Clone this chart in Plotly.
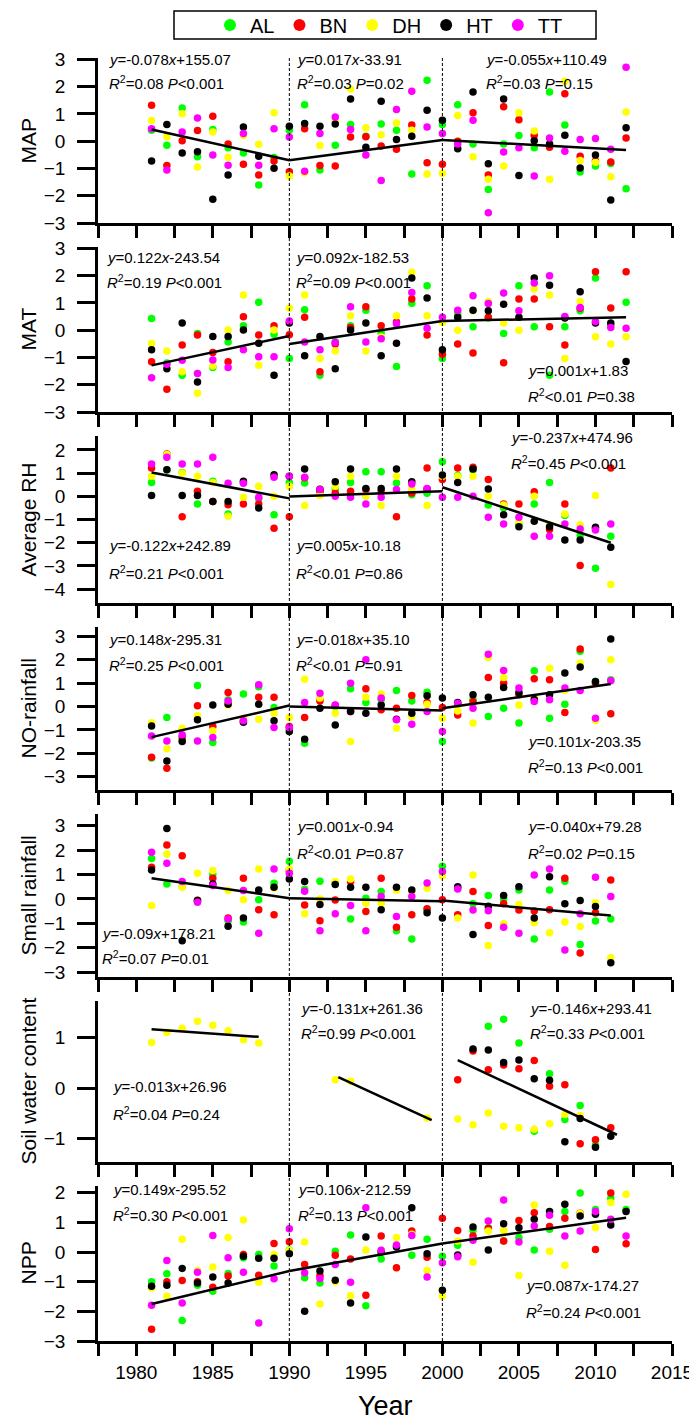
import plotly.graph_objects as go

years = list(range(1981, 2013))
series_names = ["AL", "BN", "DH", "HT", "TT"]
series_colors = ["#00FF00", "#FF0000", "#FFFF00", "#000000", "#FF00FF"]
panel_titles = ["MAP", "MAT", "Average RH", "NO-rainfall", "Small rainfall", "Soil water content", "NPP"]

x_tick_vals = [1977.5 + 2.5 * i for i in range(16)]
x_tick_text = ["" if v % 5 else str(int(v)) for v in x_tick_vals]
N = None

# ---- MAP ----
map_al = [0.4, -0.15, 1.22, -0.57, 0.43, -0.24, -0.43, -1.61, -0.6, 0.4, 1.34, -1.06, -0.15, 0.61, 0.18, 0.63, 0.4, -1.2, 2.23, 0.61, 1.34, -0.1, -1.77, -0.1, 0.21, -0.24, 1.8, 0.59, -1.13, -0.91, -0.82, -1.74]
map_bn = [1.32, -0.89, 0.02, 0.39, 0.91, -0.1, -0.85, -1.24, -0.73, -1.12, 0.46, -0.89, -0.91, 0.15, 0.16, -0.18, -0.3, 0.59, -0.79, -0.85, 0.0, 1.04, -1.24, 1.26, 0.79, 0.22, -0.22, 1.74, -0.55, -0.73, -0.76, 0.12]
map_dh = [0.76, 0.16, 1.01, -0.95, 0.34, -0.59, 0.21, -0.11, 1.04, -1.28, -1.16, -0.16, 0.75, 1.91, 0.49, 0.24, 0.67, 0.4, -1.2, -1.18, 0.94, -0.57, -1.4, -0.91, 1.04, 0.37, -1.4, 2.2, -0.71, -0.77, -1.3, 1.07]
map_ht = [-0.73, 0.61, -0.43, -0.39, -2.13, -1.24, 0.52, -0.55, -0.99, 0.55, 0.65, 0.55, 0.63, 1.55, -0.22, 1.46, 0.06, 0.18, 1.13, 0.77, -0.28, 1.8, -0.83, 1.55, -1.26, 0.02, -0.1, 0.22, -0.98, -0.51, -2.16, 0.49]
map_tt = [0.46, -1.06, 0.34, 0.85, -0.51, -0.88, 0.28, -0.88, 0.46, 0.15, -1.1, 0.28, 0.89, 0.43, -0.51, -1.44, 1.16, 1.83, 0.52, 0.28, -0.1, 0.77, -2.62, -0.4, -0.24, -1.28, 0.12, -0.37, 0.06, 0.1, -0.3, 2.71]

# ---- MAT ----
mat_al = [0.43, -1.2, -1.65, -0.12, -1.37, -0.43, 0.16, 1.02, -0.15, -1.04, 0.75, -1.65, -0.42, 0.16, 0.73, -0.09, -1.33, 0.99, 1.63, -1.04, 0.6, 0.13, 0.45, -0.12, 1.63, 0.13, -1.65, 0.13, 0.71, 1.91, 0.2, 1.02]
mat_bn = [-1.16, -2.17, -0.54, -0.18, -0.82, -1.16, 0.49, -0.18, 0.16, -0.17, 0.47, -1.52, -0.51, 0.1, 0.86, 0.16, 0.3, 1.14, -0.18, -0.88, -0.51, -0.84, 0.47, -1.19, 1.14, 1.14, 0.13, -0.54, 0.8, 2.14, 0.81, 2.14]
mat_dh = [-0.49, -0.76, -1.52, -2.31, -1.31, 0.01, 1.29, -1.29, 0.01, 0.8, 1.29, -1.04, -0.76, 0.53, -0.76, -0.25, 0.53, 2.12, 0.53, 0.28, 0.0, 0.71, 1.05, 0.26, 0.0, 1.51, 1.29, -1.04, 1.05, -0.24, -0.51, -0.24]
mat_ht = [-0.72, -1.41, 0.26, -1.9, -0.23, -0.23, 0.01, -0.48, -1.65, 0.26, -0.94, -0.23, -1.41, 0.01, 0.26, -0.94, -0.48, 1.91, 1.18, -0.72, 0.47, 0.73, 0.71, 0.95, 0.47, 1.91, 1.65, 0.45, 1.41, 0.26, 0.26, -1.15]
mat_tt = [-1.74, -1.25, -1.1, -1.59, -1.09, -1.37, -0.72, -0.97, -0.97, 0.34, -0.43, -0.72, -0.45, 0.86, -0.43, -0.31, 0.24, 1.38, 0.07, 0.47, 0.73, 1.26, 0.98, 1.36, 0.71, 1.73, 2.0, 0.5, 0.83, 0.32, 0.1, 0.07]

# ---- Average RH ----
rh_al = [0.6, 1.15, 1.03, -0.33, 0.65, -0.76, 0.6, -0.1, -0.8, 0.6, 0.57, 0.25, 0.32, 0.6, 1.06, 1.06, 0.57, 0.07, 0.13, 1.49, 0.9, 1.15, -0.37, -0.5, -1.19, -0.33, 0.6, -0.83, -1.69, -3.1, -1.72, N]
rh_bn = [1.22, 1.82, -0.88, 0.22, -0.22, -0.36, -0.33, -0.33, -1.38, -0.88, 0.8, 0.2, 0.14, 0.22, 0.29, 0.2, -0.88, 0.14, 1.22, 0.72, 1.22, 1.25, 0.72, -0.33, -0.33, 0.2, -1.43, -0.33, -2.98, -1.4, 1.22, N]
rh_dh = [0.86, 1.8, 1.0, 0.86, 0.6, -0.86, -0.04, 0.43, 0.0, 0.43, -0.4, 0.03, 0.43, 0.86, 0.0, -0.4, 0.86, 0.32, -0.4, 0.86, 0.86, 0.86, 0.0, -0.37, -1.1, 0.0, -1.23, -0.76, -1.23, 0.03, -3.8, N]
rh_ht = [0.03, 1.15, 0.03, 0.03, -0.22, -0.22, 0.65, -0.5, 0.93, 0.86, 1.18, 0.3, 0.63, 1.18, 0.34, 0.34, 1.18, 0.63, 0.32, 0.92, 0.6, 1.18, 0.32, -0.79, -1.31, -1.08, -1.31, -1.88, -1.88, -1.33, -2.2, N]
rh_tt = [1.39, 1.68, 1.39, 1.39, 1.68, 0.56, 0.56, -0.04, 0.82, 0.86, 0.82, 0.29, 0.0, -0.04, -0.33, -0.04, 0.29, 0.53, 0.34, -0.04, -0.04, 0.0, -0.9, -1.19, -0.9, -1.72, -1.72, -1.19, -1.41, -1.45, -1.19, N]

# ---- NO-rainfall ----
no_al = [-2.2, -0.47, -1.4, 0.9, -1.54, 0.29, 0.54, 0.85, -0.04, -0.95, -1.57, 0.3, 0.0, 0.76, 0.17, 0.3, 0.69, 0.24, 0.61, -1.5, 0.1, 0.3, -0.43, -0.07, -0.71, 1.53, -0.5, 0.1, 2.36, 1.07, 1.14, N]
no_bn = [-2.17, -2.64, -1.3, 0.03, -0.86, 0.6, -0.6, 0.4, 0.4, -0.86, -0.47, 0.24, 0.05, -0.21, 0.76, -0.14, -0.07, 0.47, 0.17, -0.04, -0.36, 0.2, 1.24, 1.0, 0.5, 1.19, 1.14, -0.26, 2.46, 1.0, -0.31, N]
no_dh = [-0.69, -1.81, -0.93, -0.39, -1.04, 0.07, -0.5, -0.54, -0.29, -0.47, 1.17, 0.36, -0.29, -1.5, 0.4, 0.54, -0.93, -0.43, 0.1, -0.5, -0.19, -0.71, 2.1, 1.24, 0.07, 0.39, 1.64, 0.7, 1.86, -0.6, 2.0, N]
no_ht = [-0.83, -2.33, -1.5, -0.57, 0.07, 0.1, -0.67, 0.1, -0.61, -1.07, -1.4, -0.07, -0.79, -0.21, -0.29, 0.07, -0.54, -0.29, 0.46, 0.36, 0.17, 0.5, 0.4, 0.81, 0.6, 0.3, 0.5, 1.43, 1.69, 1.07, 2.89, N]
no_tt = [-1.26, -1.47, -1.21, -1.47, -1.33, 0.24, -0.61, 0.93, -0.9, -0.9, 0.17, 0.57, 0.07, 1.0, 2.0, 0.36, -0.57, -0.76, -0.21, -1.07, 0.14, -0.07, 2.24, 1.54, 0.79, 0.21, 0.29, 0.79, 0.69, -0.5, 1.1, N]

# ---- Small rainfall ----
sr_al = [1.66, 0.61, 0.5, -0.1, 1.0, -0.9, -0.95, -0.03, 0.64, 1.54, 0.4, 0.72, 0.65, -0.82, 0.03, 0.3, -1.3, -1.64, -0.44, 1.34, 0.45, -0.2, 0.14, 0.0, 0.37, -1.64, 0.37, 0.72, -1.87, -0.91, -0.82, N]
sr_bn = [1.3, 2.21, 1.77, -0.05, 0.85, -0.78, 0.85, -0.44, -0.65, 1.16, -0.25, -0.89, -0.04, 0.71, -0.52, 0.85, -1.16, -0.65, -0.4, -0.03, -0.65, 0.3, -1.09, -0.2, -0.45, -0.5, -0.44, 0.85, -2.22, -0.57, 0.78, N]
sr_dh = [-0.27, 1.84, 0.48, 1.05, 1.16, 0.34, -0.03, 1.23, 0.45, 1.23, -0.61, 0.0, 0.71, 0.82, -0.18, -0.18, 0.37, 0.3, 0.44, 0.95, -0.78, 0.98, -1.91, -1.02, -0.23, -0.98, -1.39, -0.95, -1.13, -0.16, -2.41, N]
sr_ht = [1.19, 2.89, -1.71, -0.07, 0.61, -1.12, -0.78, 0.37, 0.48, 0.82, 0.71, -0.23, 0.59, 0.48, 0.48, -0.44, 0.48, 0.37, -0.57, -0.78, 0.5, -1.46, -0.3, 0.14, 0.5, -0.78, 0.91, -0.2, -0.07, -0.31, -2.62, N]
sr_tt = [1.91, 1.46, 0.71, -0.14, 0.55, -0.82, 0.34, -1.41, 1.23, 1.05, 0.31, -1.3, -0.61, -0.27, -1.3, 0.1, -0.72, 0.1, 0.65, 1.12, 0.41, -0.45, -0.48, -1.16, -1.41, 0.98, 1.23, -2.09, -0.61, 0.89, 0.1, N]

# ---- Soil water content ----
sw_al = [N] * 22 + [1.23, 1.37, 0.9, -0.85, 0.29, -0.62, -0.34, -1.13, N, N]
sw_bn = [N] * 20 + [0.17, 0.74, 0.37, 0.46, 0.39, 0.55, 0.04, 0.07, -1.1, -1.02, -0.78, N]
sw_dh = [0.91, 1.11, 1.19, 1.33, 1.25, 1.14, 0.96, 0.9, N, N, N, N, 0.17, 0.14, N, N, N, N, -0.59, N,
         -0.61, -0.72, -0.49, -0.75, -0.78, -0.81, -0.7, -0.52, -0.54, N, N, N]
sw_ht = [N] * 21 + [0.78, 0.76, 0.51, 0.56, 0.19, 0.16, -1.06, -0.6, -1.17, -0.95, N]
sw_tt = [N] * 32

# ---- NPP ----
npp_al = [-1.0, -0.73, -2.31, -1.12, -1.32, -0.72, -0.19, -0.08, -0.47, 0.07, -0.87, -1.04, 0.03, 0.58, -1.81, -0.23, 0.2, -0.11, 0.43, -0.14, 0.23, 0.73, 0.82, 0.37, 0.49, 0.07, 0.77, 1.37, 1.99, 1.44, 1.82, 1.44]
npp_bn = [-2.6, -1.0, -0.96, -1.0, -1.19, -0.81, -0.08, -0.78, 0.29, 0.35, -0.42, -0.8, -0.11, -0.23, -1.46, 0.54, -0.53, 0.71, -0.17, 1.14, 0.73, 0.54, 0.8, 0.37, 1.07, 1.33, 0.86, 1.14, 1.31, 0.09, 1.99, 0.28]
npp_dh = [-1.21, -1.49, 0.43, -0.62, -0.5, 0.49, 1.08, -1.02, -0.08, 0.05, 0.34, -1.75, -1.0, -1.47, 0.07, 0.0, 0.49, 0.6, -0.62, -1.49, 0.37, -0.34, 0.71, 0.73, -0.79, 1.59, 0.03, -0.44, 1.3, 0.82, 1.67, 1.95]
npp_ht = [-1.15, -1.12, -0.55, -1.04, -0.84, -1.04, -0.14, -0.21, -0.21, -0.06, -2.0, -0.64, -0.95, -1.72, 0.51, 0.0, 0.17, 1.5, -0.06, -1.29, -0.1, 0.85, 0.07, 0.96, 0.82, 1.11, 1.37, 1.61, 1.22, 1.28, 0.91, 1.37]
npp_tt = [-1.79, -0.28, -1.72, -0.68, 0.56, -0.19, -0.68, -2.39, -0.9, 0.79, -0.7, -0.89, -0.42, -1.02, 1.5, 0.06, 0.24, 0.56, -0.84, -0.36, -0.16, 0.4, 1.05, 1.76, 0.34, 0.88, 1.24, 0.54, 0.71, 1.37, 1.11, 0.54]

# ---- trend segments (start year, end year) and (start value, end value) ----
map_trend_x = [(1981, 1990), (1990, 2000), (2000, 2012)]
map_trend_y = [(0.43, -0.7), (-0.7, 0.04), (0.04, -0.32)]
mat_trend_x = [(1981, 1990), (1990, 2000), (2000, 2012)]
mat_trend_y = [(-1.29, -0.21), (-0.51, 0.34), (0.34, 0.47)]
rh_trend_x = [(1981, 1990), (1990, 2000), (2000, 2011)]
rh_trend_y = [(1.03, -0.09), (-0.01, 0.22), (0.39, -2.0)]
no_trend_x = [(1981, 1990), (1990, 2000), (2000, 2011)]
no_trend_y = [(-1.31, 0.04), (0.0, -0.17), (-0.07, 0.96)]
sr_trend_x = [(1981, 1990), (1990, 2000), (2000, 2011)]
sr_trend_y = [(0.85, 0.03), (0.03, -0.1), (-0.07, -0.68)]
sw_trend_x = [(1981, 1988), (1993.2, 1999.3), (2001, 2011.4)]
sw_trend_y = [(1.17, 1.02), (0.22, -0.63), (0.56, -0.92)]
npp_trend_x = [(1981, 1990), (1990, 2000), (2000, 2012)]
npp_trend_y = [(-1.75, -0.64), (-0.64, 0.29), (0.29, 1.16)]

# ---- regression labels ----
map_eq = ["<i>y</i>=-0.078<i>x</i>+155.07", "<i>y</i>=0.017<i>x</i>-33.91", "<i>y</i>=-0.055<i>x</i>+110.49"]
map_r2 = ["<i>R</i><sup>2</sup>=0.08 <i>P</i>&lt;0.001", "<i>R</i><sup>2</sup>=0.03 <i>P</i>=0.02", "<i>R</i><sup>2</sup>=0.03 <i>P</i>=0.15"]
mat_eq = ["<i>y</i>=0.122<i>x</i>-243.54", "<i>y</i>=0.092<i>x</i>-182.53", "<i>y</i>=0.001<i>x</i>+1.83"]
mat_r2 = ["<i>R</i><sup>2</sup>=0.19 <i>P</i>&lt;0.001", "<i>R</i><sup>2</sup>=0.09 <i>P</i>&lt;0.001", "<i>R</i><sup>2</sup>&lt;0.01 <i>P</i>=0.38"]
rh_eq = ["<i>y</i>=-0.122<i>x</i>+242.89", "<i>y</i>=0.005<i>x</i>-10.18", "<i>y</i>=-0.237<i>x</i>+474.96"]
rh_r2 = ["<i>R</i><sup>2</sup>=0.21 <i>P</i>&lt;0.001", "<i>R</i><sup>2</sup>&lt;0.01 <i>P</i>=0.86", "<i>R</i><sup>2</sup>=0.45 <i>P</i>&lt;0.001"]
no_eq = ["<i>y</i>=0.148<i>x</i>-295.31", "<i>y</i>=-0.018<i>x</i>+35.10", "<i>y</i>=0.101<i>x</i>-203.35"]
no_r2 = ["<i>R</i><sup>2</sup>=0.25 <i>P</i>&lt;0.001", "<i>R</i><sup>2</sup>&lt;0.01 <i>P</i>=0.91", "<i>R</i><sup>2</sup>=0.13 <i>P</i>&lt;0.001"]
sr_eq = ["<i>y</i>=-0.09<i>x</i>+178.21", "<i>y</i>=0.001<i>x</i>-0.94", "<i>y</i>=-0.040<i>x</i>+79.28"]
sr_r2 = ["<i>R</i><sup>2</sup>=0.07 <i>P</i>=0.01", "<i>R</i><sup>2</sup>&lt;0.01 <i>P</i>=0.87", "<i>R</i><sup>2</sup>=0.02 <i>P</i>=0.15"]
sw_eq = ["<i>y</i>=-0.013<i>x</i>+26.96", "<i>y</i>=-0.131<i>x</i>+261.36", "<i>y</i>=-0.146<i>x</i>+293.41"]
sw_r2 = ["<i>R</i><sup>2</sup>=0.04 <i>P</i>=0.24", "<i>R</i><sup>2</sup>=0.99 <i>P</i>&lt;0.001", "<i>R</i><sup>2</sup>=0.33 <i>P</i>&lt;0.001"]
npp_eq = ["<i>y</i>=0.149<i>x</i>-295.52", "<i>y</i>=0.106<i>x</i>-212.59", "<i>y</i>=0.087<i>x</i>-174.27"]
npp_r2 = ["<i>R</i><sup>2</sup>=0.30 <i>P</i>&lt;0.001", "<i>R</i><sup>2</sup>=0.13 <i>P</i>&lt;0.001", "<i>R</i><sup>2</sup>=0.24 <i>P</i>&lt;0.001"]

# ---------------- layout geometry ----------------
W, H = 697, 1424
ML, MR, MT, MB = 90, 33, 40, 84
PH = H - MT - MB
PW = W - ML - MR
panel_px = [(50, 215), (239, 404), (428, 595), (619, 782), (806, 969), (993, 1154), (1178, 1333)]
y_ranges = [(-3.0, 3.05), (-3.0, 3.05), (-4.6, 2.6), (-3.57, 3.4), (-3.2, 3.48), (-1.46, 1.73), (-3.0, 2.23)]
y_ticks = [list(range(-3, 4)), list(range(-3, 4)), list(range(-4, 3)), list(range(-3, 4)),
           list(range(-3, 4)), [-1, 0, 1], list(range(-3, 3))]
label_pos = [
    [(1978.1, 3.0, 2.15), (1990.35, 3.0, 2.15), (2002.7, 3.0, 2.15)],
    [(1977.95, 2.67, 1.79), (1990.3, 2.67, 1.79), (2005.45, -1.46, -2.41)],
    [(1978.1, -2.12, -3.27), (1990.3, -2.12, -3.27), (2004.35, 2.54, 1.47)],
    [(1978.1, 2.86, 1.79), (1990.3, 2.86, 1.79), (2005.45, -1.5, -2.57)],
    [(1977.6, -1.41, -2.39), (1990.4, 2.96, 1.91), (2005.45, 2.96, 1.91)],
    [(1978.35, 0.03, -0.49), (1990.65, 1.59, 1.1), (2005.6, 1.59, 1.1)],
    [(1978.35, 2.1, 1.28), (1990.45, 2.1, 1.28), (2005.3, -1.12, -2.0)],
]

panels = [
    ([map_al, map_bn, map_dh, map_ht, map_tt], map_trend_x, map_trend_y, map_eq, map_r2),
    ([mat_al, mat_bn, mat_dh, mat_ht, mat_tt], mat_trend_x, mat_trend_y, mat_eq, mat_r2),
    ([rh_al, rh_bn, rh_dh, rh_ht, rh_tt], rh_trend_x, rh_trend_y, rh_eq, rh_r2),
    ([no_al, no_bn, no_dh, no_ht, no_tt], no_trend_x, no_trend_y, no_eq, no_r2),
    ([sr_al, sr_bn, sr_dh, sr_ht, sr_tt], sr_trend_x, sr_trend_y, sr_eq, sr_r2),
    ([sw_al, sw_bn, sw_dh, sw_ht, sw_tt], sw_trend_x, sw_trend_y, sw_eq, sw_r2),
    ([npp_al, npp_bn, npp_dh, npp_ht, npp_tt], npp_trend_x, npp_trend_y, npp_eq, npp_r2),
]


def py2paper(py):
    return 1 - (py - MT) / PH


def px2paper(px):
    return (px - ML) / PW


FONT = "Liberation Sans, Arial, sans-serif"
fig = go.Figure()
annotations = []
layout_axes = {}

for i, (series, tx, ty, eqs, r2s) in enumerate(panels):
    k = i + 1
    xa = "x" if k == 1 else f"x{k}"
    ya = "y" if k == 1 else f"y{k}"
    for j in range(5):
        fig.add_trace(go.Scatter(
            x=years, y=series[j], mode="markers", xaxis=xa, yaxis=ya,
            name=series_names[j], legendgroup=series_names[j], showlegend=(k == 1),
            marker=dict(color=series_colors[j], size=7.5, line=dict(width=0)),
        ))
    for (x0, x1), (y0, y1) in zip(tx, ty):
        fig.add_trace(go.Scatter(
            x=[x0, x1], y=[y0, y1], mode="lines", xaxis=xa, yaxis=ya,
            line=dict(color="black", width=2.5), showlegend=False, hoverinfo="skip",
        ))
    for (lx, ly1, ly2), e, r in zip(label_pos[i], eqs, r2s):
        annotations.append(dict(x=lx, y=ly1, xref=xa, yref=ya, text=e, showarrow=False,
                                xanchor="left", yanchor="middle", font=dict(size=15, color="black", family=FONT)))
        annotations.append(dict(x=lx, y=ly2, xref=xa, yref=ya, text=r, showarrow=False,
                                xanchor="left", yanchor="middle", font=dict(size=15, color="black", family=FONT)))
    top, bot = panel_px[i]
    d0, d1 = py2paper(bot), py2paper(top)
    layout_axes["xaxis" if k == 1 else f"xaxis{k}"] = dict(
        domain=[0, 1], anchor=ya, range=[1977.5, 2015], showline=True, linewidth=2.5, linecolor="black",
        ticks="outside", ticklen=12, tickwidth=2.5, tickcolor="black", tickmode="array",
        tickvals=x_tick_vals, ticktext=x_tick_text, showticklabels=(k == 7), showgrid=False, zeroline=False,
        tickfont=dict(size=19, family=FONT, color="black"),
    )
    layout_axes["yaxis" if k == 1 else f"yaxis{k}"] = dict(
        domain=[d0, d1], anchor=xa, range=list(y_ranges[i]), showline=True, linewidth=2.5, linecolor="black",
        ticks="outside", ticklen=18, tickwidth=2.5, tickcolor="black", tickmode="array",
        tickvals=y_ticks[i], showgrid=False, zeroline=False, ticklabelstandoff=8,
        tickfont=dict(size=19, family=FONT, color="black"),
    )
    annotations.append(dict(x=px2paper(20), y=(d0 + d1) / 2, xref="paper", yref="paper",
                            text=panel_titles[i], textangle=-90, showarrow=False, xanchor="center",
                            yanchor="middle", font=dict(size=21, family=FONT, color="black")))

annotations.append(dict(x=0.5, y=py2paper(1398), xref="paper", yref="paper", text="Year", showarrow=False,
                        xanchor="center", yanchor="middle", font=dict(size=27, family=FONT, color="black")))

shapes = []
for xv in [1990, 2000]:
    shapes.append(dict(type="line", xref="x7", yref="paper", x0=xv, x1=xv,
                       y0=py2paper(panel_px[6][1]), y1=py2paper(panel_px[0][0]),
                       line=dict(color="black", width=1, dash="3px,2px")))
# legend frame
shapes.append(dict(type="rect", xref="paper", yref="paper", x0=px2paper(166), x1=px2paper(588),
                   y0=py2paper(31), y1=py2paper(3), line=dict(color="black", width=1.5)))

fig.update_layout(
    width=W, height=H, margin=dict(l=ML, r=MR, t=MT, b=MB, autoexpand=False),
    paper_bgcolor="white", plot_bgcolor="white",
    font=dict(family=FONT, color="black"),
    showlegend=True,
    legend=dict(orientation="h", x=px2paper(202), xanchor="left", y=py2paper(17), yanchor="middle",
                borderwidth=0, bgcolor="rgba(0,0,0,0)",
                font=dict(size=20, family=FONT, color="black"), itemsizing="constant"),
    annotations=annotations, shapes=shapes, **layout_axes,
)

fig.write_html("out.html")
